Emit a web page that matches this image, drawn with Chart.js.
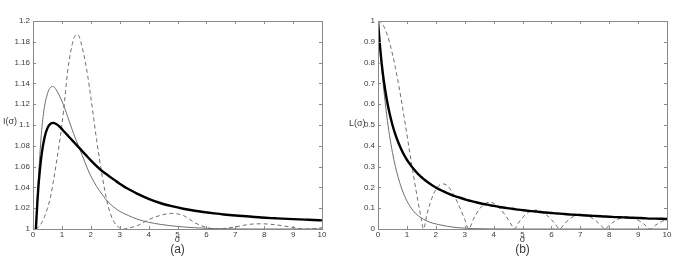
<!DOCTYPE html>
<html>
<head>
<meta charset="utf-8">
<script src="https://cdn.jsdelivr.net/npm/chart.js@4.4.0/dist/chart.umd.min.js"></script>
<style>
  html, body { margin: 0; padding: 0; background: #fff; }
  .panel { position: absolute; top: 0; width: 340px; height: 262px; }
</style>
</head>
<body>
<div class="panel" style="left:0"><canvas id="chartA" width="340" height="262"></canvas></div>
<div class="panel" style="left:345px"><canvas id="chartB" width="340" height="262"></canvas></div>
<script>
// panel (a): I(sigma)
const sigmaA = [0.1, 0.15, 0.2, 0.3, 0.4, 0.5, 0.6, 0.7, 0.8, 0.9, 1.0, 1.1, 1.2, 1.3, 1.4, 1.5, 1.6, 1.7, 1.8, 1.9,
    2.0, 2.2, 2.4, 2.6, 2.8, 3.0, 3.14, 3.3, 3.6, 4.0, 4.4, 4.8, 5.2, 5.6, 6.0, 6.28, 6.6, 7.0, 7.5, 7.9, 8.4, 9.0, 9.42, 9.7, 10.0];
const thickA = [1.0, 1.025, 1.045, 1.072, 1.088, 1.097, 1.101, 1.102, 1.101, 1.099, 1.096, 1.093, 1.09, 1.087, 1.084, 1.081, 1.078, 1.075, 1.072, 1.069,
    1.066, 1.0605, 1.0555, 1.0515, 1.0475, 1.0435, 1.041, 1.0385, 1.034, 1.029, 1.025, 1.022, 1.0195, 1.0175, 1.016, 1.015, 1.014, 1.013, 1.012, 1.011, 1.0103, 1.0095, 1.009, 1.0087, 1.0083];
const thinA = [1.0, 1.03, 1.055, 1.095, 1.118, 1.13, 1.136, 1.137, 1.134, 1.129, 1.123, 1.116, 1.108, 1.1, 1.092, 1.085, 1.078, 1.071, 1.064, 1.057,
    1.051, 1.041, 1.033, 1.026, 1.021, 1.017, 1.015, 1.013, 1.0095, 1.0065, 1.0045, 1.003, 1.002, 1.0012, 1.0007, 1.0004, 1.0002, 1.0001, 1.0, 1.0, 1.0, 1.0, 1.0, 1.0, 1.0];
const dashedA = [1.0, 1.001, 1.002, 1.006, 1.012, 1.02, 1.03, 1.045, 1.062, 1.08, 1.1, 1.125, 1.152, 1.17, 1.182, 1.187, 1.185, 1.175, 1.162, 1.146,
    1.127, 1.086, 1.05, 1.022, 1.007, 1.001, 1.0, 1.001, 1.003, 1.009, 1.013, 1.015, 1.013, 1.006, 1.0015, 1.0, 1.0005, 1.002, 1.0045, 1.005, 1.004, 1.0015, 1.0, 1.0003, 1.0012];

// panel (b): L(sigma)
const sigmaB = [0, 0.05, 0.1, 0.15, 0.2, 0.3, 0.4, 0.5, 0.6, 0.7, 0.8, 0.9, 1.0, 1.1, 1.2, 1.3, 1.4, 1.5, 1.571, 1.7,
    1.9, 2.1, 2.25, 2.4, 2.6, 2.8, 3.0, 3.142, 3.3, 3.5, 3.7, 3.86, 4.0, 4.2, 4.4, 4.6, 4.712, 4.85, 5.1, 5.3,
    5.45, 5.6, 5.8, 6.0, 6.15, 6.283, 6.45, 6.7, 6.9, 7.0, 7.2, 7.45, 7.7, 7.854, 8.0, 8.25, 8.5, 8.6, 8.8, 9.0,
    9.2, 9.425, 9.6, 9.8, 10.0];
const thickB = [1, 0.909, 0.833, 0.769, 0.714, 0.625, 0.556, 0.5, 0.455, 0.417, 0.385, 0.357, 0.333, 0.313, 0.294, 0.278, 0.263, 0.25, 0.241, 0.227,
    0.208, 0.192, 0.182, 0.172, 0.161, 0.152, 0.143, 0.137, 0.132, 0.125, 0.119, 0.115, 0.111, 0.106, 0.102, 0.098, 0.096, 0.093, 0.089, 0.086,
    0.084, 0.082, 0.079, 0.077, 0.075, 0.074, 0.072, 0.069, 0.068, 0.067, 0.065, 0.063, 0.061, 0.06, 0.059, 0.057, 0.056, 0.055, 0.054, 0.053,
    0.052, 0.05, 0.05, 0.049, 0.048];
const thinB = [1, 0.905, 0.819, 0.741, 0.67, 0.549, 0.449, 0.368, 0.301, 0.247, 0.202, 0.165, 0.135, 0.111, 0.091, 0.075, 0.063, 0.053, 0.047, 0.038,
    0.028, 0.021, 0.017, 0.013, 0.009, 0.006, 0.004, 0.003, 0.002, 0.0015, 0.001, 0.0007, 0.0005, 0.0003, 0.0002, 0.0001, 0, 0, 0, 0,
    0, 0, 0, 0, 0, 0, 0, 0, 0, 0, 0, 0, 0, 0, 0, 0, 0, 0, 0, 0,
    0, 0, 0, 0, 0];
const dashedB = [1, 0.998, 0.993, 0.985, 0.974, 0.941, 0.897, 0.841, 0.777, 0.704, 0.625, 0.541, 0.455, 0.367, 0.281, 0.198, 0.12, 0.047, 0, 0.075,
    0.161, 0.208, 0.217, 0.208, 0.17, 0.113, 0.047, 0, 0.047, 0.094, 0.122, 0.128, 0.124, 0.102, 0.067, 0.024, 0, 0.028, 0.069, 0.087,
    0.091, 0.088, 0.071, 0.045, 0.021, 0, 0.025, 0.055, 0.068, 0.071, 0.067, 0.049, 0.02, 0, 0.018, 0.043, 0.057, 0.058, 0.054, 0.042,
    0.024, 0, 0.018, 0.035, 0.046];

const xTicks = [0, 1, 2, 3, 4, 5, 6, 7, 8, 9, 10];

const lineGray = '#6e6e6e';
const boxGray = '#8a8a8a';
const textGray = '#3a3a3a';

function points( xs, ys ){
    return xs.map( ( x, i ) => ( { x: x, y: ys[i] } ) );
}

// box, inward tick marks and free text labels (matlab style)
const framePlugin = {
    id: 'frame',
    afterDraw: function( chart, args, opts ){
        const ctx = chart.ctx;
        const a = chart.chartArea;
        const xs = chart.scales.x;
        const ys = chart.scales.y;
        ctx.save();
        ctx.strokeStyle = boxGray;
        ctx.lineWidth = 1;
        ctx.strokeRect( a.left + 0.5, a.top + 0.5, a.right - a.left, a.bottom - a.top );
        ctx.beginPath();
        xs.ticks.forEach( t => {
            const px = Math.round( xs.getPixelForValue( t.value ) ) + 0.5;
            ctx.moveTo( px, a.bottom ); ctx.lineTo( px, a.bottom - 3 );
            ctx.moveTo( px, a.top ); ctx.lineTo( px, a.top + 3 );
        } );
        ys.ticks.forEach( t => {
            const py = Math.round( ys.getPixelForValue( t.value ) ) + 0.5;
            ctx.moveTo( a.left, py ); ctx.lineTo( a.left + 3, py );
            ctx.moveTo( a.right, py ); ctx.lineTo( a.right - 3, py );
        } );
        ctx.stroke();

        const cx = ( a.left + a.right ) / 2;
        ctx.fillStyle = textGray;
        ctx.textAlign = 'center';
        ctx.textBaseline = 'middle';
        ctx.font = '9px "Liberation Sans", Arial, sans-serif';
        ctx.fillText( 'σ', cx, 240 );
        ctx.font = '12px "Liberation Sans", Arial, sans-serif';
        ctx.fillText( opts.panel, cx, 250 );
        ctx.font = '9px "Liberation Sans", Arial, sans-serif';
        ctx.textAlign = 'left';
        ctx.fillText( opts.yLabel, opts.yLabelX, opts.yLabelY );
        ctx.restore();
    }
};

function makePanel( id, sigma, thick, thin, dashed, yMin, yMax, yStep, yLabel, yLabelX, yLabelY, panel ){
    return new Chart( document.getElementById( id ), {
        type: 'line',
        data: {
            datasets: [
                {
                    label: 'thick',
                    data: points( sigma, thick ),
                    borderColor: '#000',
                    borderWidth: 2.4,
                    order: 0
                },
                {
                    label: 'thin',
                    data: points( sigma, thin ),
                    borderColor: lineGray,
                    borderWidth: 1,
                    order: 1
                },
                {
                    label: 'dashed',
                    data: points( sigma, dashed ),
                    borderColor: lineGray,
                    borderWidth: 1,
                    borderDash: [4, 3],
                    order: 2
                }
            ]
        },
        options: {
            responsive: false,
            animation: false,
            events: [],
            layout: { padding: { top: 21, right: 18, left: 0, bottom: 0 } },
            elements: {
                point: { radius: 0 },
                line: { cubicInterpolationMode: 'monotone', fill: false }
            },
            scales: {
                x: {
                    type: 'linear',
                    min: 0,
                    max: 10,
                    afterBuildTicks: function( scale ){
                        scale.ticks = xTicks.map( v => ( { value: v } ) );
                    },
                    afterFit: function( scale ){ scale.height = 33; },
                    grid: { display: false, drawTicks: false },
                    border: { display: false },
                    ticks: {
                        autoSkip: false,
                        maxRotation: 0,
                        padding: 1,
                        color: textGray,
                        font: { size: 8, family: '"Liberation Sans", Arial, sans-serif' }
                    }
                },
                y: {
                    type: 'linear',
                    min: yMin,
                    max: yMax,
                    afterFit: function( scale ){ scale.width = 33; },
                    grid: { display: false, drawTicks: false },
                    border: { display: false },
                    ticks: {
                        stepSize: yStep,
                        autoSkip: false,
                        padding: 3,
                        color: textGray,
                        font: { size: 8, family: '"Liberation Sans", Arial, sans-serif' },
                        callback: function( value ){
                            return String( Math.round( value * 100 ) / 100 );
                        }
                    }
                }
            },
            plugins: {
                legend: { display: false },
                tooltip: { enabled: false },
                frame: { panel: panel, yLabel: yLabel, yLabelX: yLabelX, yLabelY: yLabelY }
            }
        },
        plugins: [ framePlugin ]
    } );
}

makePanel( 'chartA', sigmaA, thickA, thinA, dashedA, 1, 1.2, 0.02, 'I(σ)', 3, 122, '(a)' );
makePanel( 'chartB', sigmaB, thickB, thinB, dashedB, 0, 1, 0.1, 'L(σ)', 4, 124, '(b)' );
</script>
</body>
</html>
